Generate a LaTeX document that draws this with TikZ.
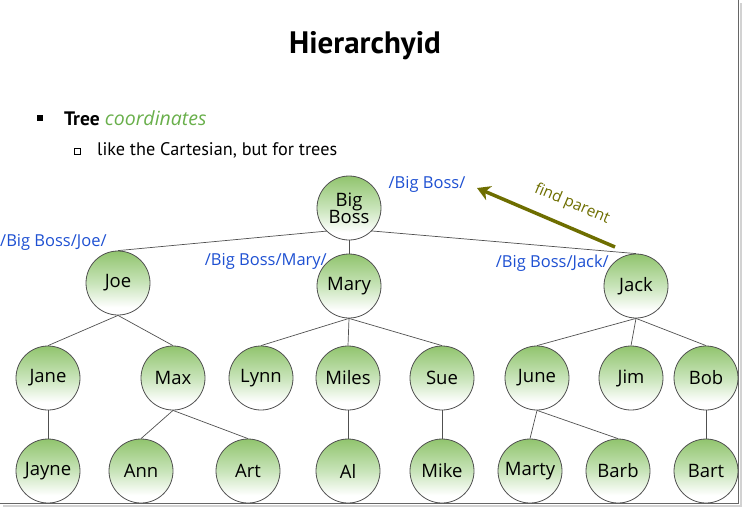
\documentclass[tikz,border=0pt]{standalone}
\usepackage{fontspec}
\setmainfont{PT Sans}
\newfontfamily\hand{Open Sans}
\usetikzlibrary{arrows.meta}
\definecolor{gtop}{RGB}{145,196,110}
\definecolor{gmid}{RGB}{200,228,185}
\definecolor{pathblue}{RGB}{30,80,210}
\definecolor{olivec}{RGB}{110,110,0}
\definecolor{greenword}{RGB}{105,175,75}
\definecolor{edgec}{RGB}{80,80,80}
\pgfdeclareverticalshading{nodeshade}{100bp}{color(0bp)=(white); color(31bp)=(white); color(50bp)=(gmid); color(75bp)=(gtop); color(100bp)=(gtop)}
\pgfdeclarelayer{background}
\pgfsetlayers{background,main}
\tikzset{
  person/.style={circle, draw=edgec, line width=0.8pt, shading=nodeshade, minimum size=64pt, inner sep=0pt, font=\hand\fontsize{18.5}{20}\selectfont, align=center, text=black},
  pathlbl/.style={font=\hand\fontsize{16.5}{18}\selectfont, text=pathblue, inner sep=0pt},
  treeedge/.style={draw=edgec, line width=0.7pt},
}
\begin{document}
\begin{tikzpicture}[x=1pt,y=-1pt]
\useasboundingbox (0,0) rectangle (743,512);
% frame
\draw[gray!35, line width=2.5pt] (741,3) -- (741,506) -- (3,506);
\draw[gray!80!black, line width=1pt] (738.5,0) -- (738.5,503) -- (0,503);
% title and bullets
\node[font=\bfseries\fontsize{31}{33}\selectfont, anchor=base] (title) at (365,53) {Hierarchyid};
\node[fill=black, minimum size=6pt, inner sep=0pt] (b1) at (40,118) {};
\node[anchor=base west, inner sep=0pt, font=\fontsize{19.5}{21}\selectfont] (tree) at (64,125) {\textbf{Tree} {\hand\itshape\color{greenword}coordinates}};
\node[draw=black, line width=0.6pt, minimum size=6pt, inner sep=0pt] (b2) at (77,151) {};
\node[anchor=base west, inner sep=0pt, font=\fontsize{18.2}{20}\selectfont] (sub) at (97,155) {like the Cartesian, but for trees};
% nodes
\node[person] (bb) at (349,208) {Big\\[-3pt]Boss};
\node[person] (joe) at (118,283) {Joe};
\node[person] (mary) at (349,286) {Mary};
\node[person] (jack) at (636,286) {Jack};
\node[person] (jane) at (48,378) {Jane};
\node[person] (max) at (173,378) {Max};
\node[person] (lynn) at (261,378) {Lynn};
\node[person] (miles) at (348,378) {Miles};
\node[person] (sue) at (442,378) {Sue};
\node[person] (june) at (537,378) {June};
\node[person] (jim) at (631,378) {Jim};
\node[person] (bob) at (706,378) {Bob};
\node[person] (jayne) at (48,471) {Jayne};
\node[person] (ann) at (141,471) {Ann};
\node[person] (art) at (248,471) {Art};
\node[person] (al) at (348,471) {Al};
\node[person] (mike) at (442,471) {Mike};
\node[person] (marty) at (530,471) {Marty};
\node[person] (barb) at (618,471) {Barb};
\node[person] (bart) at (706,471) {Bart};
% edges
\begin{pgfonlayer}{background}
\draw[treeedge] ([yshift=-21pt]bb.center) -- (joe.north);
\draw[treeedge] ([yshift=-21pt]bb.center) -- (jack.north);
\draw[treeedge] (bb.south) -- (mary.north);
\draw[treeedge] (joe.south) -- (jane.north);
\draw[treeedge] (joe.south) -- (max.north);
\draw[treeedge] (mary.south) -- (lynn.north);
\draw[treeedge] (mary.south) -- (miles.north);
\draw[treeedge] (mary.south) -- (sue.north);
\draw[treeedge] (jack.south) -- (june.north);
\draw[treeedge] (jack.south) -- (jim.north);
\draw[treeedge] (jack.south) -- (bob.north);
\draw[treeedge] (jane.south) -- (jayne.north);
\draw[treeedge] (max.south) -- (ann.north);
\draw[treeedge] (max.south) -- (art.north);
\draw[treeedge] (miles.south) -- (al.north);
\draw[treeedge] (sue.south) -- (mike.north);
\draw[treeedge] (june.south) -- (marty.north);
\draw[treeedge] (june.south) -- (barb.north);
\draw[treeedge] (bob.south) -- (bart.north);
\end{pgfonlayer}
% path labels
\node[pathlbl] (lroot) at (427,184) {/Big Boss/};
\node[pathlbl, anchor=west] (ljoe) at (0,242) {/Big Boss/Joe/};
\node[pathlbl, anchor=east] (lmary) at (327,261) {/Big Boss/Mary/};
\node[pathlbl, anchor=east] (ljack) at (609,263) {/Big Boss/Jack/};
% find parent arrow
\coordinate (fps) at (615,247);
\coordinate (fpe) at (477,188);
\draw[olivec, line width=3.5pt, -{Stealth[length=13pt,width=15pt,inset=4pt]}] (fps) -- (fpe);
\node[font=\hand\fontsize{15.5}{17}\selectfont, text=olivec, rotate=-23, inner sep=0pt] (fptext) at (572,204) {find parent};
\end{tikzpicture}
\end{document}
